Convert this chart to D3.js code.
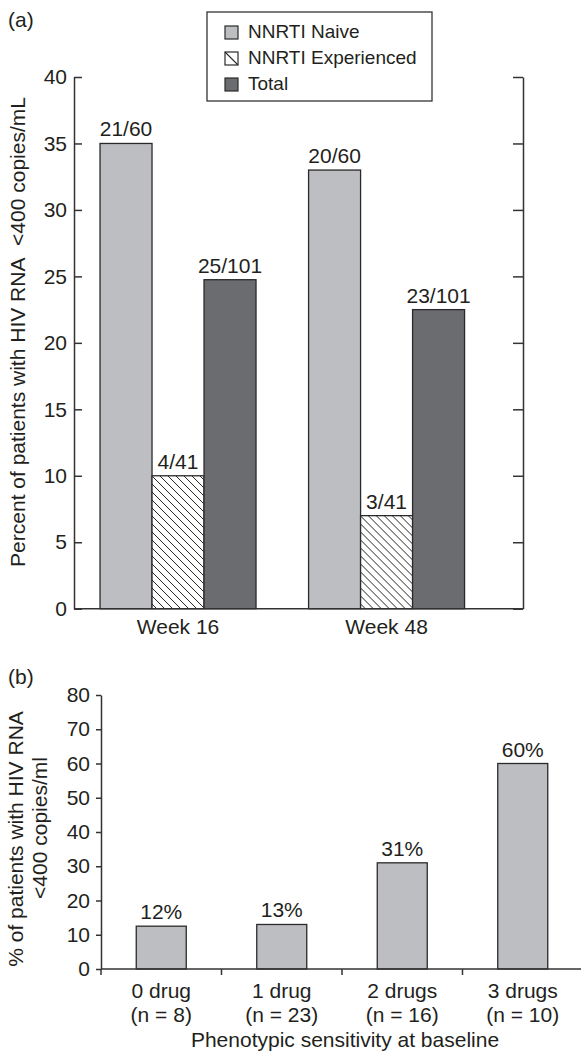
<!DOCTYPE html>
<html>
<head>
<meta charset="utf-8">
<script src="https://cdn.jsdelivr.net/npm/d3@7"></script>
<style>
  body { margin: 0; background: #fff; }
  svg text { font-family: "Liberation Sans", Arial, Helvetica, sans-serif; fill: #231f20; }
</style>
</head>
<body>
<div id="chart"></div>
<script>
// panel (a) data
const weeks = ["Week 16", "Week 48"];
const groupsA = ["NNRTI Naive", "NNRTI Experienced", "Total"];
const naiveVals = [35, 33];
const experiencedVals = [10, 7];
const totalVals = [24.75, 22.5];
const naiveLabels = ["21/60", "20/60"];
const experiencedLabels = ["4/41", "3/41"];
const totalLabels = ["25/101", "23/101"];
const ticksA = [0, 5, 10, 15, 20, 25, 30, 35, 40];

// panel (b) data
const drugCats = ["0 drug", "1 drug", "2 drugs", "3 drugs"];
const drugN = ["(n = 8)", "(n = 23)", "(n = 16)", "(n = 10)"];
const drugVals = [12.5, 13, 31, 60];
const drugLabels = ["12%", "13%", "31%", "60%"];
const ticksB = [0, 10, 20, 30, 40, 50, 60, 70, 80];

const ink = "#333";
const fills = { "NNRTI Naive": "#bdbec2", "NNRTI Experienced": "url(#hatch)", "Total": "#6b6c70" };

const svg = d3.select("#chart").append("svg").attr("width", 581).attr("height", 1060);

// hatch pattern "\\"
const defs = svg.append("defs");
const pat = defs.append("pattern").attr("id", "hatch")
    .attr("patternUnits", "userSpaceOnUse").attr("width", 8).attr("height", 8);
pat.append("rect").attr("width", 8).attr("height", 8).attr("fill", "#fff");
pat.append("path").attr("d", "M-2,-2 L10,10 M-2,6 L2,10 M6,-2 L10,2")
    .attr("stroke", "#222").attr("stroke-width", 1);

// ---------- panel (a)
const a = { left: 74, right: 523, top: 77, bottom: 608.7 };

const rows = weeks.map((w, i) => ({
    week: w,
    bars: [
        { g: groupsA[0], v: naiveVals[i], label: naiveLabels[i] },
        { g: groupsA[1], v: experiencedVals[i], label: experiencedLabels[i] },
        { g: groupsA[2], v: totalVals[i], label: totalLabels[i] }
    ]
}));

const xA = d3.scaleBand().domain(weeks).range([a.left, 490.6]).paddingInner(0.252).paddingOuter(0.1248);
const x1A = d3.scaleBand().domain(groupsA).range([0, xA.bandwidth()]);
const yA = d3.scaleLinear().domain([0, 40]).range([a.bottom, a.top]);

svg.append("text").attr("x", 8).attr("y", 27).attr("font-size", 21).text("(a)");

const gA = svg.append("g");

const grp = gA.selectAll("g.week").data(rows).join("g")
    .attr("class", "week")
    .attr("transform", d => `translate(${xA(d.week)},0)`);

grp.selectAll("rect").data(d => d.bars).join("rect")
    .attr("x", d => x1A(d.g))
    .attr("y", d => yA(d.v))
    .attr("width", x1A.bandwidth())
    .attr("height", d => yA(0) - yA(d.v))
    .attr("fill", d => fills[d.g])
    .attr("stroke", "#2a2a2a").attr("stroke-width", 1.3);

grp.selectAll("text").data(d => d.bars).join("text")
    .attr("x", d => x1A(d.g) + x1A.bandwidth() / 2)
    .attr("y", d => yA(d.v) - 7)
    .attr("text-anchor", "middle").attr("font-size", 21)
    .text(d => d.label);

// left axis, ticks inward
const axL = gA.append("g").attr("transform", `translate(${a.left},0)`)
    .call(d3.axisLeft(yA).tickValues(ticksA).tickSizeInner(-8).tickSizeOuter(0).tickPadding(7));
// right axis, ticks inward, no labels
const axR = gA.append("g").attr("transform", `translate(${a.right},0)`)
    .call(d3.axisRight(yA).tickValues(ticksA).tickSizeInner(-10).tickSizeOuter(0).tickFormat(""));
[axL, axR].forEach(ax => {
    ax.select(".domain").attr("stroke", ink).attr("stroke-width", 1.5);
    ax.selectAll(".tick line").attr("stroke", ink).attr("stroke-width", 1.5);
    ax.selectAll(".tick text").attr("font-size", 21).attr("font-family", null).attr("fill", "#231f20");
});

gA.append("line").attr("x1", a.left).attr("x2", a.right)
    .attr("y1", a.bottom).attr("y2", a.bottom)
    .attr("stroke", ink).attr("stroke-width", 1.5);

gA.selectAll("text.wk").data(weeks).join("text")
    .attr("class", "wk")
    .attr("x", d => xA(d) + xA.bandwidth() / 2)
    .attr("y", 634)
    .attr("text-anchor", "middle").attr("font-size", 21)
    .text(d => d);

svg.append("text")
    .attr("transform", "translate(25,332) rotate(-90)")
    .attr("text-anchor", "middle").attr("font-size", 21)
    .text("Percent of patients with HIV RNA\u00a0 <400 copies/mL");

// legend
const lg = svg.append("g");
lg.append("rect").attr("x", 207).attr("y", 12).attr("width", 225).attr("height", 89)
    .attr("fill", "#fff").attr("stroke", ink).attr("stroke-width", 1.3);
const li = lg.selectAll("g.li").data(groupsA).join("g")
    .attr("class", "li")
    .attr("transform", (d, i) => `translate(225,${26 + i * 26})`);
li.append("rect").attr("width", 13).attr("height", 13)
    .attr("fill", d => d === "NNRTI Experienced" ? "#fff" : fills[d])
    .attr("stroke", "#2a2a2a").attr("stroke-width", 1.2);
li.filter(d => d === "NNRTI Experienced").append("line")
    .attr("x1", 0).attr("y1", 0).attr("x2", 13).attr("y2", 13)
    .attr("stroke", "#2a2a2a").attr("stroke-width", 1.1);
li.append("text").attr("x", 23).attr("y", 12).attr("font-size", 19).text(d => d);

// ---------- panel (b)
const b = { left: 101, top: 695, bottom: 969 };
const xB = d3.scaleBand().domain(drugCats).range([101, 583]);
const yB = d3.scaleLinear().domain([0, 80]).range([b.bottom, b.top]);
const barW = 50;

svg.append("text").attr("x", 8).attr("y", 684).attr("font-size", 21).text("(b)");

const gB = svg.append("g");

gB.selectAll("rect.bar").data(drugCats).join("rect")
    .attr("class", "bar")
    .attr("x", (d) => xB(d) + xB.bandwidth() / 2 - barW / 2)
    .attr("y", (d, i) => yB(drugVals[i]))
    .attr("width", barW)
    .attr("height", (d, i) => yB(0) - yB(drugVals[i]))
    .attr("fill", fills["NNRTI Naive"])
    .attr("stroke", "#2a2a2a").attr("stroke-width", 1.3);

gB.selectAll("text.val").data(drugCats).join("text")
    .attr("class", "val")
    .attr("x", d => xB(d) + xB.bandwidth() / 2)
    .attr("y", (d, i) => yB(drugVals[i]) - 7)
    .attr("text-anchor", "middle").attr("font-size", 21)
    .text((d, i) => drugLabels[i]);

const axB = gB.append("g").attr("transform", `translate(${b.left},0)`)
    .call(d3.axisLeft(yB).tickValues(ticksB).tickSize(5).tickSizeOuter(0).tickPadding(6));
axB.select(".domain").attr("stroke", ink).attr("stroke-width", 1.5);
axB.selectAll(".tick line").attr("stroke", ink).attr("stroke-width", 1.5);
axB.selectAll(".tick text").attr("font-size", 21).attr("font-family", null).attr("fill", "#231f20");

// x axis with ticks on band boundaries
gB.append("line").attr("x1", b.left).attr("x2", 581)
    .attr("y1", b.bottom).attr("y2", b.bottom)
    .attr("stroke", ink).attr("stroke-width", 1.5);
gB.selectAll("line.bt").data(drugCats).join("line")
    .attr("class", "bt")
    .attr("x1", d => xB(d)).attr("x2", d => xB(d))
    .attr("y1", b.bottom).attr("y2", b.bottom + 6)
    .attr("stroke", ink).attr("stroke-width", 1.5);

const cat = gB.selectAll("text.cat").data(drugCats).join("text")
    .attr("class", "cat")
    .attr("text-anchor", "middle").attr("font-size", 21);
cat.append("tspan").attr("x", d => xB(d) + xB.bandwidth() / 2).attr("y", 998).text(d => d);
cat.append("tspan").attr("x", d => xB(d) + xB.bandwidth() / 2).attr("y", 1022).text((d, i) => drugN[i]);

svg.append("text").attr("x", 345).attr("y", 1047)
    .attr("text-anchor", "middle").attr("font-size", 21)
    .text("Phenotypic sensitivity at baseline");

svg.append("text")
    .attr("transform", "translate(23,839) rotate(-90)")
    .attr("text-anchor", "middle").attr("font-size", 21)
    .text("% of patients with HIV RNA");
svg.append("text")
    .attr("transform", "translate(47,828) rotate(-90)")
    .attr("text-anchor", "middle").attr("font-size", 21)
    .text("<400 copies/ml");
</script>
</body>
</html>
